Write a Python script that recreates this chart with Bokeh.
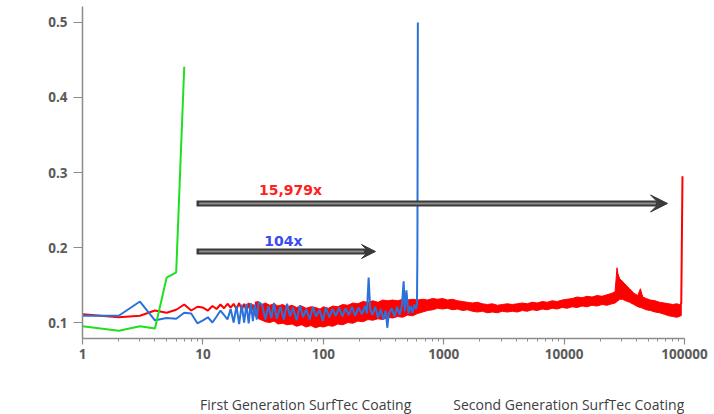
from bokeh.plotting import figure
from bokeh.layouts import column
from bokeh.models import (Legend, LegendItem, Label, Arrow, VeeHead, LogTicker,
                          FixedTicker, NumeralTickFormatter)
from bokeh.embed import file_html
from bokeh.resources import INLINE

# ---------------- data ----------------
virgin_t = [1, 2, 3, 4, 5, 6, 7]
virgin_cof = [0.095, 0.089, 0.095, 0.092, 0.160, 0.167, 0.441]

first_t = [1, 2, 3, 4, 5, 6, 7, 8, 9, 10, 11, 12, 13, 14, 15, 16, 17, 18, 19, 20,
           21, 22, 23, 24, 25, 26, 27, 28, 29, 31, 33, 35, 37, 39, 41, 44, 47, 50,
           53, 56, 60, 64, 68, 72, 77, 82, 87, 93, 99, 105, 112, 119, 127, 135, 144,
           153, 163, 173, 184, 196, 209, 222, 230, 238, 245, 255, 270, 285, 300, 315,
           330, 340, 350, 370, 390, 410, 430, 450, 465, 475, 490, 510, 530, 550, 570,
           590, 600, 605, 610]
first_cof = [0.109, 0.109, 0.128, 0.103, 0.106, 0.105, 0.113, 0.112, 0.099, 0.103,
             0.107, 0.100, 0.108, 0.116, 0.110, 0.104, 0.118, 0.100, 0.122, 0.098,
             0.124, 0.100, 0.125, 0.099, 0.126, 0.102, 0.124, 0.104, 0.127, 0.124,
             0.104, 0.122, 0.106, 0.126, 0.105, 0.121, 0.104, 0.125, 0.108, 0.120,
             0.103, 0.123, 0.107, 0.118, 0.104, 0.121, 0.108, 0.117, 0.102, 0.120,
             0.107, 0.118, 0.109, 0.120, 0.108, 0.119, 0.110, 0.121, 0.109, 0.120,
             0.111, 0.122, 0.112, 0.160, 0.118, 0.110, 0.121, 0.106, 0.118, 0.104,
             0.116, 0.093, 0.112, 0.119, 0.108, 0.121, 0.110, 0.123, 0.155, 0.115,
             0.143, 0.112, 0.122, 0.113, 0.124, 0.118, 0.125, 0.200, 0.500]

second_t = [1, 2, 3, 4, 5, 6, 7, 8, 9, 10, 11, 12, 13, 14, 15, 16, 17, 18, 19, 20,
            21, 22, 23, 24, 25, 26, 27, 28]
second_cof = [0.111, 0.107, 0.109, 0.116, 0.113, 0.117, 0.124, 0.116, 0.121, 0.120,
              0.116, 0.122, 0.118, 0.124, 0.119, 0.125, 0.120, 0.125, 0.118, 0.126,
              0.117, 0.125, 0.115, 0.126, 0.112, 0.124, 0.110, 0.125]

# noisy band of the second generation coating (lower / upper envelope)
band_t = [27, 29, 31, 33, 36, 39, 42, 46, 50, 55, 60, 66, 72, 79, 86, 94, 100, 110,
          120, 132, 145, 160, 176, 194, 213, 235, 258, 284, 312, 343, 377, 415, 456,
          502, 552, 607, 668, 735, 808, 889, 978, 1076, 1183, 1302, 1432, 1575, 1733,
          1906, 2097, 2306, 2537, 2790, 3069, 3376, 3714, 4085, 4494, 4943, 5437,
          5981, 6579, 7237, 7961, 8757, 9633, 10596, 11656, 12821, 14104, 15514,
          17065, 18772, 20649, 22714, 24985, 26500, 27500, 28000, 29000, 30500,
          32500, 35000, 38000, 41000, 43000, 45000, 48000, 52000, 57000, 62000,
          68000, 74000, 80000, 86000, 91000, 95000]
band_low = [0.109, 0.105, 0.103, 0.101, 0.100, 0.102, 0.098, 0.099, 0.097, 0.098,
            0.095, 0.097, 0.094, 0.096, 0.093, 0.095, 0.094, 0.096, 0.095, 0.098,
            0.097, 0.100, 0.099, 0.102, 0.101, 0.104, 0.103, 0.105, 0.104, 0.107,
            0.106, 0.108, 0.107, 0.110, 0.109, 0.112, 0.114, 0.116, 0.117, 0.119,
            0.118, 0.119, 0.117, 0.118, 0.116, 0.117, 0.115, 0.114, 0.115, 0.113,
            0.114, 0.113, 0.115, 0.114, 0.115, 0.114, 0.116, 0.115, 0.117, 0.116,
            0.118, 0.117, 0.119, 0.118, 0.120, 0.119, 0.121, 0.120, 0.122, 0.121,
            0.123, 0.122, 0.124, 0.123, 0.125, 0.126, 0.128, 0.129, 0.131, 0.131,
            0.129, 0.127, 0.124, 0.121, 0.120, 0.119, 0.117, 0.116, 0.114, 0.113,
            0.111, 0.109, 0.108, 0.107, 0.108, 0.110]
band_high = [0.127, 0.128, 0.124, 0.126, 0.123, 0.125, 0.122, 0.124, 0.121, 0.123,
             0.120, 0.122, 0.119, 0.121, 0.120, 0.118, 0.121, 0.119, 0.122, 0.121,
             0.124, 0.123, 0.126, 0.125, 0.128, 0.127, 0.129, 0.127, 0.130, 0.129,
             0.130, 0.129, 0.131, 0.130, 0.131, 0.130, 0.131, 0.130, 0.132, 0.131,
             0.132, 0.130, 0.131, 0.129, 0.128, 0.127, 0.126, 0.127, 0.125, 0.124,
             0.125, 0.123, 0.124, 0.125, 0.124, 0.125, 0.126, 0.125, 0.127, 0.126,
             0.128, 0.127, 0.129, 0.128, 0.130, 0.131, 0.132, 0.134, 0.133, 0.135,
             0.134, 0.136, 0.135, 0.137, 0.139, 0.141, 0.173, 0.165, 0.158, 0.155,
             0.150, 0.145, 0.139, 0.136, 0.145, 0.134, 0.132, 0.130, 0.129, 0.127,
             0.126, 0.125, 0.124, 0.125, 0.124, 0.127]

spike_t = [94000, 96200]
spike_cof = [0.125, 0.295]

y_ticks = [0.1, 0.2, 0.3, 0.4, 0.5]
series_names = ["First Generation SurfTec Coating",
                "Second Generation SurfTec Coating",
                "Virgin PTFE"]

BLUE = "#2a72da"
RED = "#ff0000"
GREEN = "#1fe01f"

# ---------------- main figure ----------------
p = figure(frame_width=602, frame_height=332, x_axis_type="log",
           x_range=(1, 100000), y_range=(0.0787, 0.5213),
           output_backend="svg", toolbar_location=None, title=None,
           min_border_left=82, min_border_right=30,
           min_border_top=6, min_border_bottom=58)
p.background_fill_color = "white"
p.border_fill_color = "white"
p.outline_line_color = None
p.xgrid.visible = False
p.ygrid.visible = False

p.varea(x=band_t, y1=band_low, y2=band_high, fill_color=RED)
p.line(second_t, second_cof, line_color=RED, line_width=2)
p.line(band_t, band_low, line_color=RED, line_width=1)
p.line(band_t, band_high, line_color=RED, line_width=1)
p.line(spike_t, spike_cof, line_color=RED, line_width=2)
p.line(first_t, first_cof, line_color=BLUE, line_width=2)
p.line(virgin_t, virgin_cof, line_color=GREEN, line_width=2)

for ax in (p.xaxis[0], p.yaxis[0]):
    ax.axis_line_color = "#8c8c8c"
    ax.axis_line_width = 1.5
    ax.major_tick_line_color = "#8c8c8c"
    ax.minor_tick_line_color = "#8c8c8c"
    ax.major_tick_line_width = 1.2
    ax.major_tick_in = 0
    ax.minor_tick_in = 0
    ax.major_label_text_font = "Open Sans"
    ax.major_label_text_font_style = "bold"
    ax.major_label_text_font_size = "13.5px"
    ax.major_label_text_color = "#5a5a5a"

xa = p.xaxis[0]
xa.ticker = LogTicker(mantissas=[1], desired_num_ticks=6, num_minor_ticks=10)
xa.formatter = NumeralTickFormatter(format="0")
xa.major_tick_out = 6
xa.minor_tick_out = 3
xa.major_label_standoff = 4

ya = p.yaxis[0]
ya.ticker = FixedTicker(ticks=y_ticks)
ya.minor_tick_line_color = None
ya.major_tick_out = 9
ya.major_label_standoff = 6

# axis titles
p.add_layout(Label(x=0.318, y=0.3587, text="COF", angle=1.5708,
                   text_align="center", text_baseline="middle",
                   text_font="Open Sans", text_font_style="bold",
                   text_font_size="15px", text_color="#111111"))
p.add_layout(Label(x=316.2, y=0.0253, text="Time [s]",
                   text_align="center", text_baseline="middle",
                   text_font="Open Sans", text_font_style="bold",
                   text_font_size="16px", text_color="#111111"))

# arrows
for (xs, xe, yy, hs) in [(8.85, 72300, 0.2587, 17), (8.85, 271.5, 0.1947, 14)]:
    p.add_layout(Arrow(x_start=xs, y_start=yy, x_end=xe, y_end=yy,
                       line_color="#3a3a3a", line_width=6,
                       end=VeeHead(size=hs, fill_color="#3a3a3a", line_color="#3a3a3a")))
    p.add_layout(Arrow(x_start=xs * 1.05, y_start=yy, x_end=xe * 0.8, y_end=yy,
                       line_color="#8e8e8e", line_width=2, end=None))

p.add_layout(Label(x=53.4, y=0.2773, text="15,979x", text_align="center",
                   text_baseline="middle", text_font="DejaVu Sans",
                   text_font_style="bold", text_font_size="14px", text_color="#ff2020"))
p.add_layout(Label(x=46.7, y=0.2093, text="104x", text_align="center",
                   text_baseline="middle", text_font="DejaVu Sans",
                   text_font_style="bold", text_font_size="14px", text_color="#3a4cf0"))

# ---------------- legend strip ----------------
lg = figure(width=714, height=18, x_range=(0, 1), y_range=(0, 1),
            output_backend="svg", toolbar_location=None, title=None,
            x_axis_location=None, y_axis_location=None,
            min_border_left=0, min_border_right=0, min_border_top=0,
            min_border_bottom=0)
lg.outline_line_color = None
lg.xgrid.visible = False
lg.ygrid.visible = False
lg.background_fill_color = "white"
lg.border_fill_color = "white"

r_blue = lg.line([], [], line_color=BLUE, line_width=2)
r_red = lg.line([], [], line_color=RED, line_width=2)
r_green = lg.line([], [], line_color=GREEN, line_width=2)

legend = Legend(items=[
    LegendItem(label=series_names[0], renderers=[r_blue]),
    LegendItem(label=series_names[1], renderers=[r_red]),
    LegendItem(label=series_names[2], renderers=[r_green]),
], location=(78, 0), orientation="horizontal")
legend.glyph_width = 40
legend.glyph_height = 14
legend.label_height = 14
legend.label_standoff = 0
legend.spacing = 2
legend.padding = 0
legend.margin = 0
legend.border_line_color = None
legend.background_fill_alpha = 0
legend.label_text_font = "Open Sans"
legend.label_text_font_size = "14px"
legend.label_text_color = "#404040"
lg.add_layout(legend)

layout = column(p, lg, spacing=0)

open("out.html", "w").write(file_html(layout, INLINE))
